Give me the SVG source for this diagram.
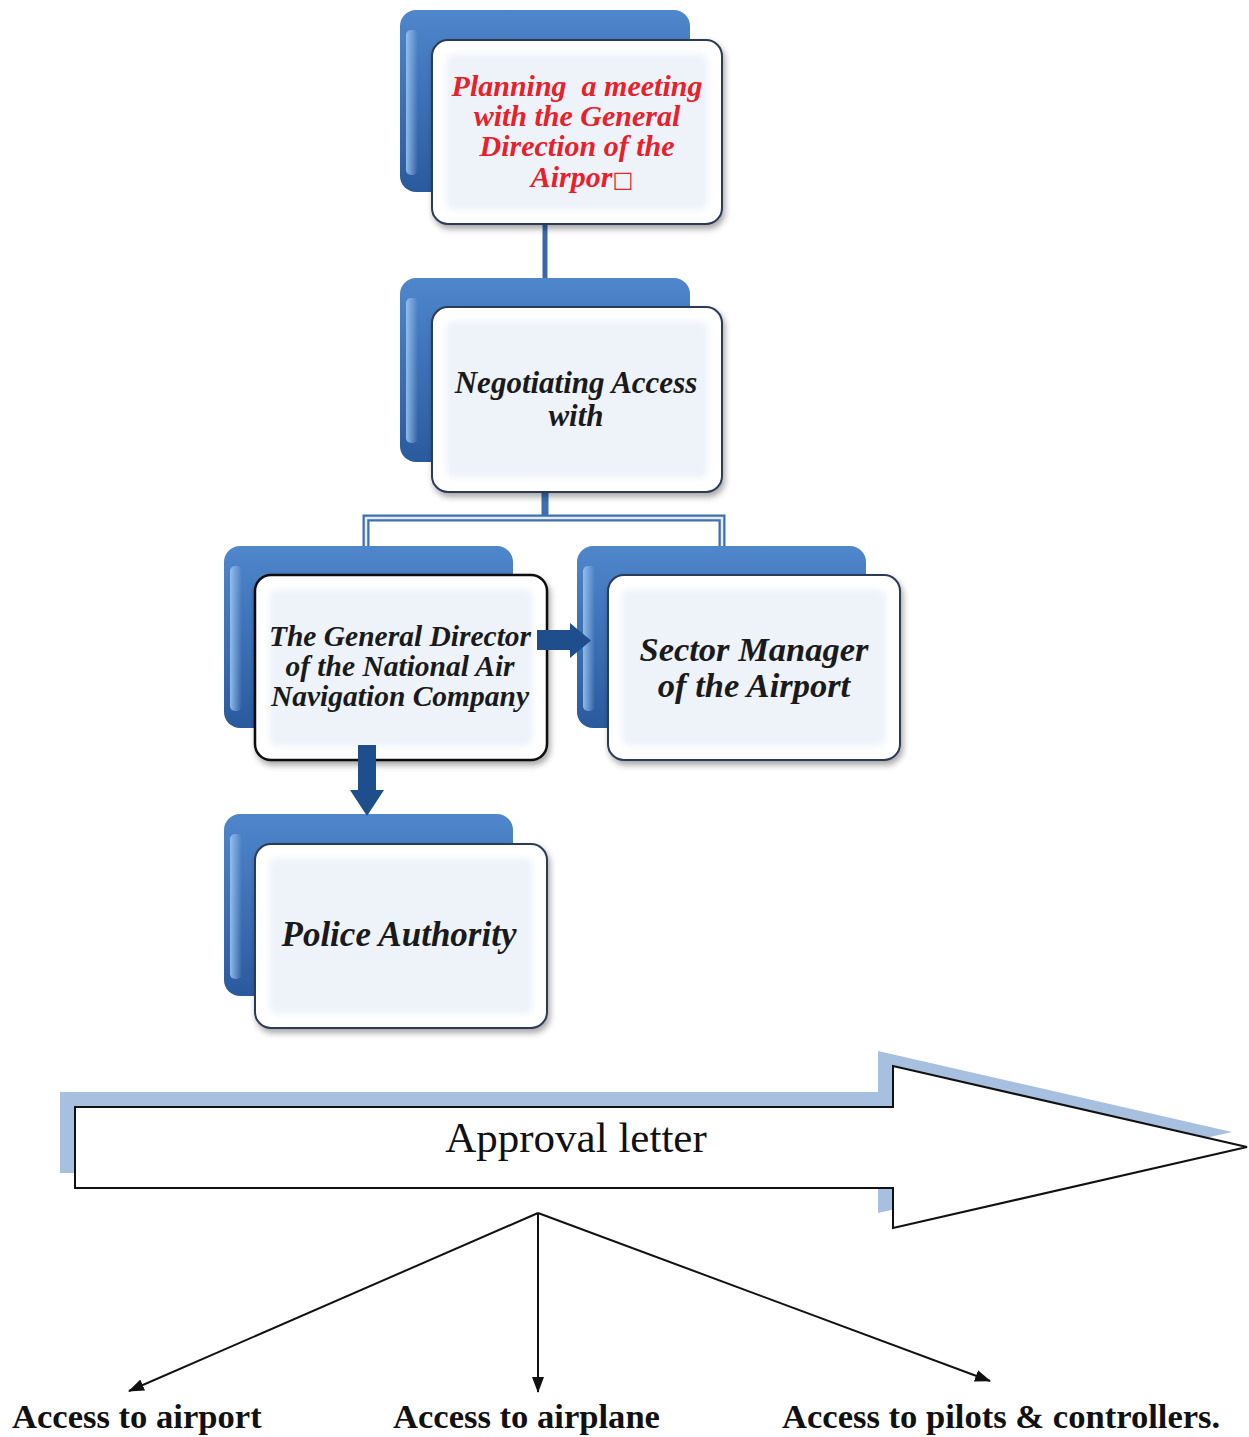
<svg xmlns="http://www.w3.org/2000/svg" width="1249" height="1437" viewBox="0 0 1249 1437">
<defs>
  <linearGradient id="gBack" x1="0" y1="0" x2="0" y2="1">
    <stop offset="0" stop-color="#4f86cc"/>
    <stop offset="1" stop-color="#2a5a9e"/>
  </linearGradient>
  <linearGradient id="gHi" x1="0" y1="0" x2="1" y2="0">
    <stop offset="0" stop-color="#9cc4ee" stop-opacity="0.9"/>
    <stop offset="1" stop-color="#9cc4ee" stop-opacity="0"/>
  </linearGradient>
  <filter id="sh" x="-10%" y="-10%" width="125%" height="130%">
    <feDropShadow dx="2" dy="4" stdDeviation="3" flood-color="#000" flood-opacity="0.35"/>
  </filter>
  <filter id="soft" x="-10%" y="-10%" width="120%" height="120%">
    <feGaussianBlur stdDeviation="3"/>
  </filter>
  <marker id="ah2" viewBox="0 0 16 12" refX="15" refY="6" markerWidth="16" markerHeight="12" markerUnits="userSpaceOnUse" orient="auto">
    <path d="M0,0 L16,6 L0,12 z" fill="#111"/>
  </marker>
</defs>
<style>
  .back{fill:url(#gBack);}
  .hi{fill:url(#gHi);}
  .front{fill:#ffffff;stroke:#2b3a58;stroke-width:2;filter:url(#sh);}
  .frontk{fill:#ffffff;stroke:#111;stroke-width:2.5;filter:url(#sh);}
  .inner{fill:#eef3fa;filter:url(#soft);}
  .nt{font-family:"Liberation Serif","Times New Roman",serif;font-weight:bold;font-style:italic;text-anchor:middle;fill:#1a1a1a;white-space:pre;}
  .red{fill:#e8202a;}
  .tree{fill:none;stroke:#3f6fb0;stroke-width:7;}
  .treein{fill:none;stroke:#e3ecf7;stroke-width:2.5;}
  .blk{fill:#1f4e8c;}
  .bigsh{fill:#a8c0e0;}
  .big{fill:#ffffff;stroke:#111;stroke-width:2;}
  .lab{font-family:"Liberation Serif","Times New Roman",serif;font-weight:bold;fill:#111;font-size:34.6px;}
  .ln{stroke:#111;stroke-width:2;fill:none;}
</style>

<g id="connectors">
  <line x1="545" y1="222" x2="545" y2="280" stroke="#3a68a8" stroke-width="5"/>
  <path class="tree" d="M545,492 V518 M366,547 V518 H722 V547"/>
  <path class="treein" d="M366,546 V518 H722 V546"/>
</g>

<g id="node-planning">
  <rect class="back" x="400" y="10" width="290" height="182" rx="16"/>
  <rect class="hi" x="406" y="30" width="12" height="145" rx="5"/>
  <rect class="front" x="432" y="40" width="290" height="184" rx="16"/>
  <rect class="inner" x="446" y="54" width="262" height="156" rx="8"/>
  <text class="nt red" font-size="30" x="577" y="96" xml:space="preserve">Planning  a meeting</text>
  <text class="nt red" font-size="30" x="577" y="126">with the General</text>
  <text class="nt red" font-size="30" x="577" y="156">Direction of the</text>
  <text class="nt red" font-size="30" x="582" y="187">Airpor<tspan font-family="DejaVu Sans" font-style="normal" font-weight="normal" font-size="22">□</tspan></text>
</g>

<g id="node-negotiating">
  <rect class="back" x="400" y="278" width="290" height="184" rx="16"/>
  <rect class="hi" x="406" y="298" width="12" height="145" rx="5"/>
  <rect class="front" x="432" y="307" width="290" height="185" rx="16"/>
  <rect class="inner" x="446" y="321" width="262" height="157" rx="8"/>
  <text class="nt" font-size="31" x="576" y="393">Negotiating Access</text>
  <text class="nt" font-size="31" x="576" y="426">with</text>
</g>

<g id="node-general-director">
  <rect class="back" x="224" y="546" width="289" height="182" rx="16"/>
  <rect class="hi" x="230" y="566" width="12" height="145" rx="5"/>
  <rect class="frontk" x="255" y="575" width="292" height="185" rx="16"/>
  <rect class="inner" x="269" y="589" width="264" height="157" rx="8"/>
  <text class="nt" font-size="29.5" x="400" y="646">The General Director</text>
  <text class="nt" font-size="29.5" x="400" y="676">of the National Air</text>
  <text class="nt" font-size="29.5" x="400" y="706">Navigation Company</text>
</g>

<g id="node-sector-manager">
  <rect class="back" x="577" y="546" width="289" height="182" rx="16"/>
  <rect class="hi" x="583" y="566" width="12" height="145" rx="5"/>
  <rect class="front" x="608" y="575" width="292" height="185" rx="16"/>
  <rect class="inner" x="622" y="589" width="264" height="157" rx="8"/>
  <text class="nt" font-size="34.5" x="754" y="661">Sector Manager</text>
  <text class="nt" font-size="34.5" x="754" y="697">of the Airport</text>
</g>

<g id="node-police">
  <rect class="back" x="224" y="814" width="289" height="182" rx="16"/>
  <rect class="hi" x="230" y="834" width="12" height="145" rx="5"/>
  <rect class="front" x="255" y="844" width="292" height="184" rx="16"/>
  <rect class="inner" x="269" y="858" width="264" height="156" rx="8"/>
  <text class="nt" font-size="35" x="399" y="946">Police Authority</text>
</g>

<g id="connectors-block">
  <path class="blk" d="M537,630 H570 V623 L591,640.5 L570,658 V650 H537 z"/>
  <path class="blk" d="M358,745 H376 V790 H384 L367,816 L350,790 H358 z"/>
</g>

<g id="node-approval">
  <path class="bigsh" d="M60,1092 H878 V1051 L1232,1132 L878,1213 V1173 H60 z"/>
  <path class="big" d="M75,1107 H893 V1066 L1247,1147 L893,1228 V1188 H75 z"/>
  <text x="576" y="1152" font-family="Liberation Serif,'Times New Roman',serif" font-size="43" text-anchor="middle" fill="#111">Approval letter</text>
</g>

<g id="connectors-bottom">
  <line class="ln" x1="538" y1="1213" x2="129" y2="1391" marker-end="url(#ah2)"/>
  <line class="ln" x1="538" y1="1213" x2="538" y2="1392" marker-end="url(#ah2)"/>
  <line class="ln" x1="538" y1="1213" x2="990" y2="1381" marker-end="url(#ah2)"/>
</g>

<g id="node-access-airport"><text class="lab" x="12" y="1428">Access to airport</text></g>
<g id="node-access-airplane"><text class="lab" x="393" y="1428">Access to airplane</text></g>
<g id="node-access-pilots"><text class="lab" x="782" y="1428">Access to pilots &amp; controllers.</text></g>
</svg>
